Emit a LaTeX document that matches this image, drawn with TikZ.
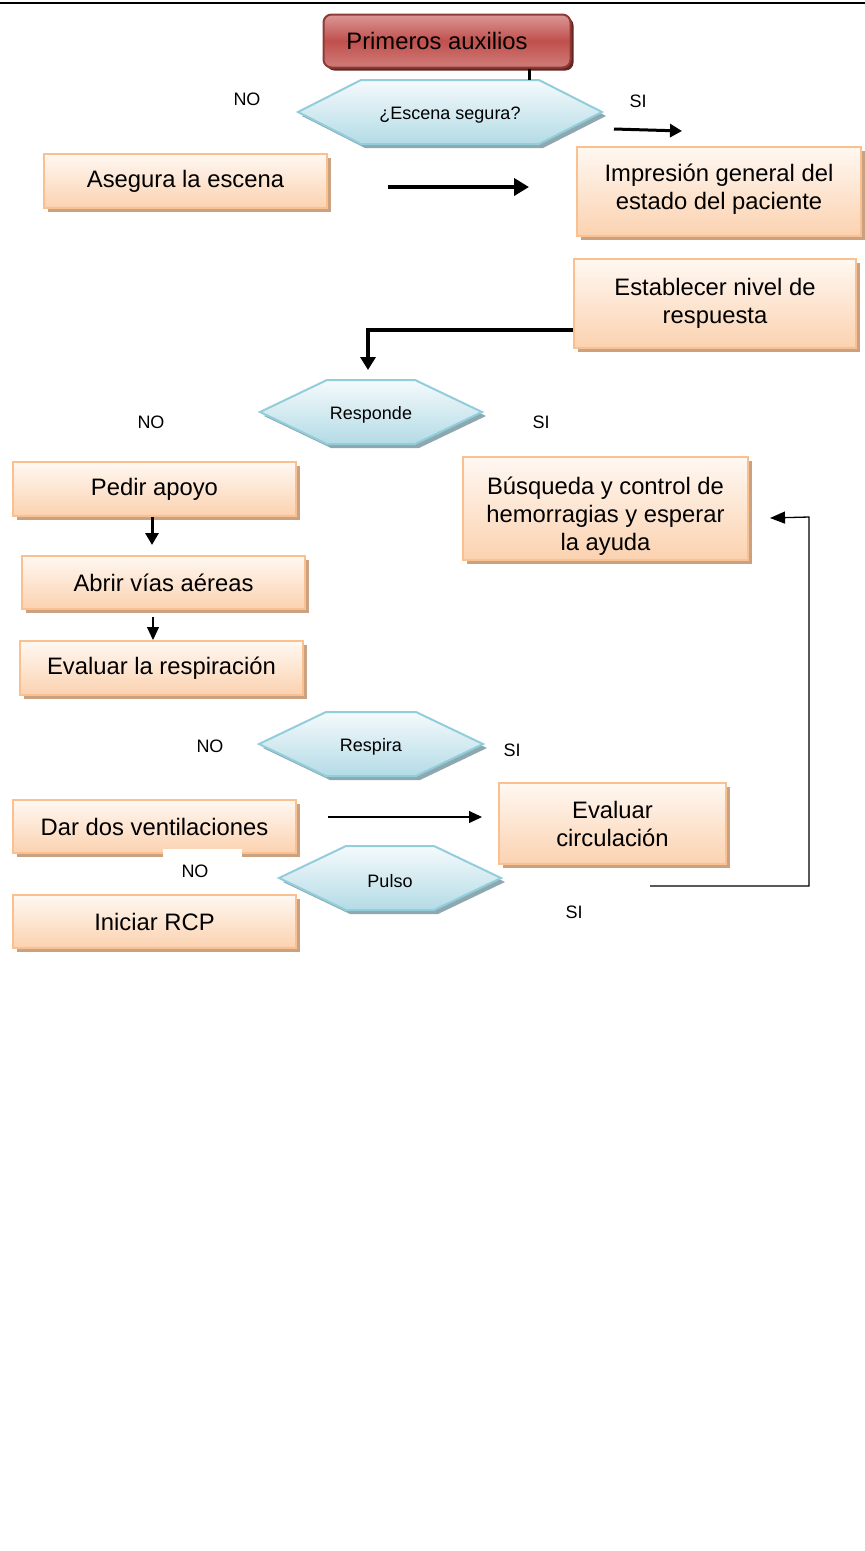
\documentclass[tikz,border=0pt]{standalone}
\usepackage{fontspec}
\setmainfont{Liberation Sans}
\usetikzlibrary{arrows.meta,shadows}
\definecolor{boxborder}{HTML}{FAC090}
\definecolor{boxtop}{HTML}{FFF8F2}
\definecolor{boxbot}{HTML}{FBD2B0}
\definecolor{boxshadow}{HTML}{CBA281}
\definecolor{hexborder}{HTML}{92CDDC}
\definecolor{hextop}{HTML}{F4FAFC}
\definecolor{hexbot}{HTML}{B4DBE6}
\definecolor{hexshadow}{HTML}{8EA8B0}
\definecolor{redtop}{HTML}{DA9896}
\definecolor{redmid}{HTML}{C0504D}
\definecolor{redbot}{HTML}{D07C79}
\definecolor{redborder}{HTML}{8E3B38}
\definecolor{redshadow}{HTML}{652523}
\newcommand\boxfont{\fontsize{23.8}{28}\selectfont}
\newcommand\smallfont{\fontsize{18}{21}\selectfont}
\tikzset{
  box/.style={draw=boxborder, line width=2pt, top color=boxtop, bottom color=boxbot,
    drop shadow={shadow xshift=4pt, shadow yshift=-4pt, fill=boxshadow, opacity=1},
    inner sep=2pt, align=center, font=\boxfont, text=black},
  hexpath/.style={draw=hexborder, line width=2pt, top color=hextop, bottom color=hexbot},
  hexshade/.style={fill=hexshadow},
  hextext/.style={font=\smallfont, inner sep=1pt, yshift=-3pt},
  lab/.style={font=\smallfont, inner sep=0pt},
  thickarrow/.style={line width=3pt, -{Triangle[length=12pt,width=13pt]}},
  fatarrow/.style={line width=4.5pt, -{Triangle[length=15pt,width=17pt]}},
  thinarrow/.style={line width=1.1pt, -{Triangle[length=13pt,width=12pt]}},
}
\newcommand\boxnode[7][]{%
  \node[box, minimum width={(#5-#3)*1pt}, minimum height={(#6-#4)*1pt}, #1]
    (#2) at ({(#3+#5)/2},{(#4+#6)/2}) {#7};}
\newcommand\hexa[7]{%
  \fill[hexshade] ({#2-#4+4},{#3+4}) -- ({#2-#4+#6+4},{#3-#5+4}) -- ({#2+#4-#6+4},{#3-#5+4})
     -- ({#2+#4+4},{#3+4}) -- ({#2+#4-#6+4},{#3+#5+4}) -- ({#2-#4+#6+4},{#3+#5+4}) -- cycle;
  \path[hexpath] ({#2-#4},{#3}) -- ({#2-#4+#6},{#3-#5}) -- ({#2+#4-#6},{#3-#5})
     -- ({#2+#4},{#3}) -- ({#2+#4-#6},{#3+#5}) -- ({#2-#4+#6},{#3+#5}) -- cycle;
  \node[hextext] (#1) at (#2,#3) {#7};
  \coordinate (#1-n) at (#2,{#3-#5});
  \coordinate (#1-s) at (#2,{#3+#5});
  \coordinate (#1-w) at ({#2-#4},#3);
  \coordinate (#1-e) at ({#2+#4},#3);}
\begin{document}
\begin{tikzpicture}[x=1pt,y=-1pt]
\useasboundingbox (0,0) rectangle (865,1551);
\draw[line width=2.5pt] (0,3) -- (865,3);

% title
\node[draw=redborder, line width=2pt, rounded corners=8pt, top color=redtop, bottom color=redbot, middle color=redmid,
  drop shadow={shadow xshift=3pt, shadow yshift=-3pt, fill=redshadow, opacity=1},
  minimum width=247pt, minimum height=53pt, font=\boxfont, text=black] (prim) at (447,41) {\hspace*{-20pt}Primeros auxilios};

\hexa{esc}{450}{112}{152}{32}{63}{¿Escena segura?}
\draw[line width=3pt] ([xshift=82pt]prim.south) -- ([xshift=82pt]prim.south |- esc-n);

\node[lab] (no1) at (247,99) {NO};
\node[lab] (si1) at (638,101) {SI};

\boxnode{aseg}{44}{154}{327}{208}{Asegura la escena}
\boxnode[text depth=9pt]{imp}{577}{147}{861}{236}{Impresión general del\\estado del paciente}
\coordinate (a1s) at (614,129);
\coordinate (a1e) at (682,131);
\draw[thickarrow] (a1s) -- (a1e);
\coordinate (a2s) at (388,187);
\coordinate (a2e) at (529,187);
\draw[fatarrow] (a2s) -- (a2e);

\boxnode{est}{574}{259}{856}{348}{Establecer nivel de\\respuesta}
\hexa{resp}{371}{412}{111}{32}{67}{Responde}
\coordinate (a3e) at (368,370);
\draw[line width=4pt, -{Triangle[length=13pt,width=15pt]}] ([yshift=-26.5pt]est.west) -| (a3e);
\node[lab] (no2) at (151,422) {NO};
\node[lab] (si2) at (541,422) {SI};

\boxnode{bus}{463}{457}{748}{560}{\rule{0pt}{32pt}Búsqueda y control de\\hemorragias y esperar\\la ayuda}
\boxnode{ped}{13}{462}{296}{516}{Pedir apoyo}
\boxnode{abr}{22}{556}{305}{609}{Abrir vías aéreas}
\boxnode{eva}{20}{641}{303}{695}{Evaluar la respiración}
\coordinate (a4e) at (152,545);
\draw[thickarrow] (ped.south -| a4e) -- (a4e);
\coordinate (a5s) at (153,617);
\draw[thinarrow] (a5s) -- (eva.north -| a5s);

\hexa{respira}{371}{744}{112}{32}{67}{Respira}
\node[lab] (no3) at (210,746) {NO};
\node[lab] (si3) at (512,750) {SI};

\boxnode{dar}{13}{800}{296}{853}{Dar dos ventilaciones}
\fill[white] (163,849) rectangle (242,859);
\boxnode{evc}{499}{783}{726}{864}{Evaluar\\circulación}
\coordinate (a6s) at (328,817);
\coordinate (a6e) at (482,817);
\draw[thinarrow] (a6s) -- (a6e);

\hexa{pulso}{390}{878}{111}{32}{67}{Pulso}
\node[lab] (no4) at (195,871) {NO};
\node[lab] (si4) at (574,912) {SI};
\boxnode{ini}{13}{895}{296}{948}{Iniciar RCP}

\coordinate (l1) at (650,886);
\coordinate (l2) at (809,886);
\coordinate (l3) at (809,517);
\coordinate (l4) at (770,518);
\draw[line width=1.3pt, -{Triangle[length=15pt,width=12pt]}] (l1) -- (l2) -- (l3) -- (l4);
\end{tikzpicture}
\end{document}
